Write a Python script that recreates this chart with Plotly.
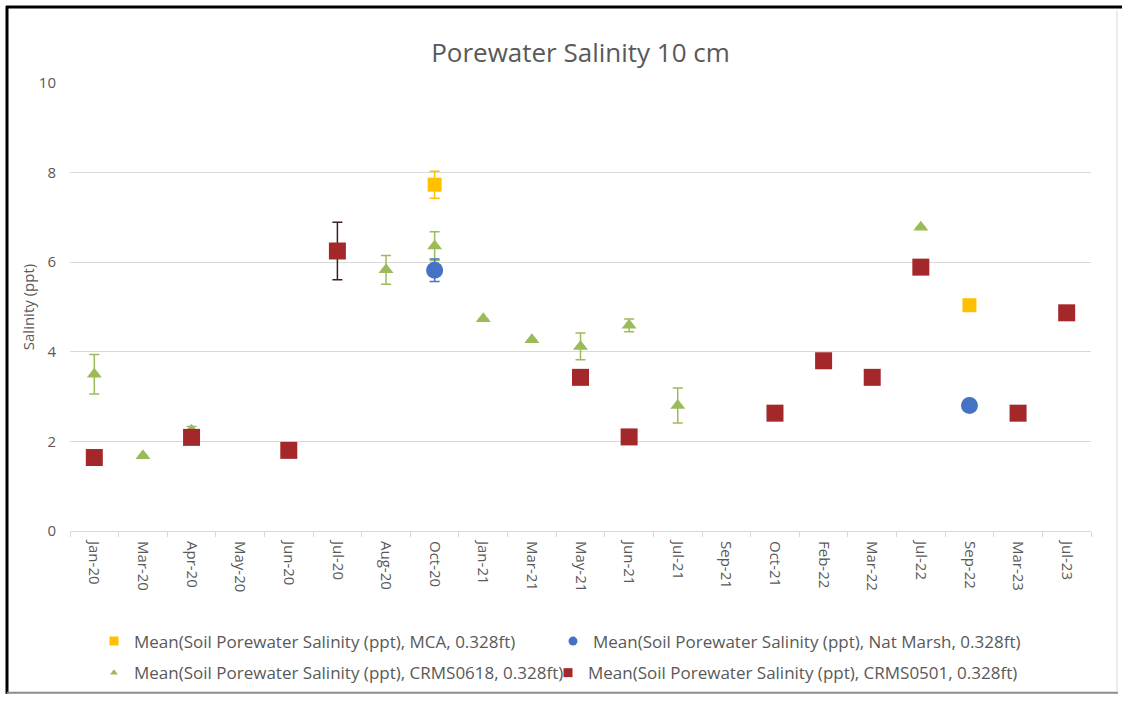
import plotly.graph_objects as go

categories = ["Jan-20", "Mar-20", "Apr-20", "May-20", "Jun-20", "Jul-20", "Aug-20", "Oct-20",
              "Jan-21", "Mar-21", "May-21", "Jun-21", "Jul-21", "Sep-21", "Oct-21", "Feb-22",
              "Mar-22", "Jul-22", "Sep-22", "Mar-23", "Jul-23"]

mca_x = ["Oct-20", "Sep-22"]
mca_y = [7.73, 5.04]
mca_err = [0.30, 0.0]

nat_x = ["Oct-20", "Sep-22"]
nat_y = [5.82, 2.80]
nat_err = [0.25, 0.0]

c618_x = ["Jan-20", "Mar-20", "Apr-20", "Aug-20", "Oct-20", "Jan-21", "Mar-21", "May-21",
          "Jun-21", "Jul-21", "Jul-22"]
c618_y = [3.50, 1.68, 2.25, 5.83, 6.36, 4.74, 4.27, 4.12, 4.59, 2.80, 6.78]
c618_err = [0.44, 0.0, 0.08, 0.32, 0.32, 0.0, 0.0, 0.30, 0.14, 0.39, 0.0]

c501_x = ["Jan-20", "Apr-20", "Jun-20", "Jul-20", "May-21", "Jun-21", "Oct-21", "Feb-22",
          "Mar-22", "Jul-22", "Mar-23", "Jul-23"]
c501_y = [1.64, 2.09, 1.80, 6.25, 3.43, 2.10, 2.63, 3.80, 3.43, 5.89, 2.63, 4.87]
c501_err = [0.0, 0.0, 0.0, 0.64, 0.12, 0.12, 0.0, 0.0, 0.0, 0.0, 0.0, 0.0]

y_ticks = [0, 2, 4, 6, 8, 10]

names = [
    "Mean(Soil Porewater Salinity (ppt), MCA, 0.328ft)",
    "Mean(Soil Porewater Salinity (ppt), Nat Marsh, 0.328ft)",
    "Mean(Soil Porewater Salinity (ppt), CRMS0618, 0.328ft)",
    "Mean(Soil Porewater Salinity (ppt), CRMS0501, 0.328ft)",
]

C_ORANGE = "#FFC000"
C_BLUE = "#4472C4"
C_GREEN = "#9BBB59"
C_RED = "#A4282A"
TXT = "#595959"
FONT = "Open Sans, Lato, sans-serif"

fig = go.Figure()

# data traces (drawing order: green, red, orange, blue)
fig.add_trace(go.Scatter(
    x=c618_x, y=c618_y, mode="markers", name=names[2], showlegend=False,
    marker=dict(symbol="triangle-up", size=13, color=C_GREEN),
    error_y=dict(type="data", array=c618_err, color=C_GREEN, thickness=1.5, width=5),
))
fig.add_trace(go.Scatter(
    x=c501_x, y=c501_y, mode="markers", name=names[3], showlegend=False,
    marker=dict(symbol="square", size=17, color=C_RED),
    error_y=dict(type="data", array=c501_err, color="#3a2020", thickness=1.5, width=5),
))
fig.add_trace(go.Scatter(
    x=mca_x, y=mca_y, mode="markers", name=names[0], showlegend=False,
    marker=dict(symbol="square", size=14, color=C_ORANGE),
    error_y=dict(type="data", array=mca_err, color=C_ORANGE, thickness=1.5, width=5),
))
fig.add_trace(go.Scatter(
    x=nat_x, y=nat_y, mode="markers", name=names[1], showlegend=False,
    marker=dict(symbol="circle", size=17, color=C_BLUE),
    error_y=dict(type="data", array=nat_err, color=C_BLUE, thickness=1.5, width=5),
))

# legend entries (small symbols like the original), one legend box per entry
legend_items = [
    (names[0], "square", C_ORANGE, 9, "legend"),
    (names[1], "circle", C_BLUE, 9, "legend2"),
    (names[2], "triangle-up", C_GREEN, 7, "legend3"),
    (names[3], "square", C_RED, 9, "legend4"),
]
for nm, sym, col, sz, lg in legend_items:
    fig.add_trace(go.Scatter(x=[None], y=[None], mode="markers", name=nm, legend=lg,
                             hoverinfo="skip",
                             marker=dict(symbol=sym, size=sz, color=col)))

W, H = 1122, 703
L, R, T, B = 70, 31, 83, 166
pw, ph = W - L - R, H - T - B


def px(xp):
    return (xp - L) / pw


def py(yp):
    return (H - B - yp) / ph


frame = [
    dict(x0=px(7), x1=px(7), y0=py(5), y1=py(702), color="#000000", width=3),
    dict(x0=px(6), x1=px(1122), y0=py(6), y1=py(6), color="#000000", width=3),
    dict(x0=px(7), x1=px(1118), y0=py(701), y1=py(701), color="#8c8c8c", width=2),
    dict(x0=px(1117), x1=px(1117), y0=py(10), y1=py(700), color="#d9d9d9", width=1),
]
shapes = [dict(type="line", xref="paper", yref="paper", x0=f["x0"], x1=f["x1"],
               y0=f["y0"], y1=f["y1"], line=dict(color=f["color"], width=f["width"]))
          for f in frame]

legend_common = dict(orientation="h", xanchor="left", yanchor="middle",
                     bgcolor="rgba(0,0,0,0)",
                     font=dict(family=FONT, size=17, color=TXT), itemwidth=30)

fig.update_layout(
    width=W, height=H,
    margin=dict(l=L, r=R, t=T, b=B),
    paper_bgcolor="white", plot_bgcolor="white",
    font=dict(family=FONT, color=TXT),
    title=dict(text="Porewater Salinity 10 cm", xref="paper", x=0.5, xanchor="center",
               y=1 - 53 / H, yanchor="middle", font=dict(family=FONT, size=26, color=TXT)),
    xaxis=dict(type="category", categoryorder="array", categoryarray=categories,
               range=[-0.5, len(categories) - 0.5], tickangle=90,
               tickfont=dict(family=FONT, size=15, color=TXT), ticklabelstandoff=6,
               showgrid=False, showline=True, linecolor="#d9d9d9", linewidth=1,
               ticks="outside", tickson="boundaries", ticklen=5, tickcolor="#d9d9d9",
               zeroline=False),
    yaxis=dict(range=[0, 10], tickvals=y_ticks, showgrid=True, gridcolor="#d9d9d9",
               gridwidth=1, zeroline=False, showline=False, ticks="",
               tickfont=dict(family=FONT, size=15, color=TXT), ticklabelstandoff=13,
               title=dict(text="Salinity (ppt)", font=dict(family=FONT, size=15, color=TXT),
                          standoff=0)),
    legend=dict(x=px(94), y=py(649), **legend_common),
    legend2=dict(x=px(553), y=py(649), **legend_common),
    legend3=dict(x=px(94), y=py(681), **legend_common),
    legend4=dict(x=px(548), y=py(681), **legend_common),
    shapes=shapes,
)

fig.write_html("out.html", config={"displayModeBar": False},
               post_script="document.body.style.margin='0';")
